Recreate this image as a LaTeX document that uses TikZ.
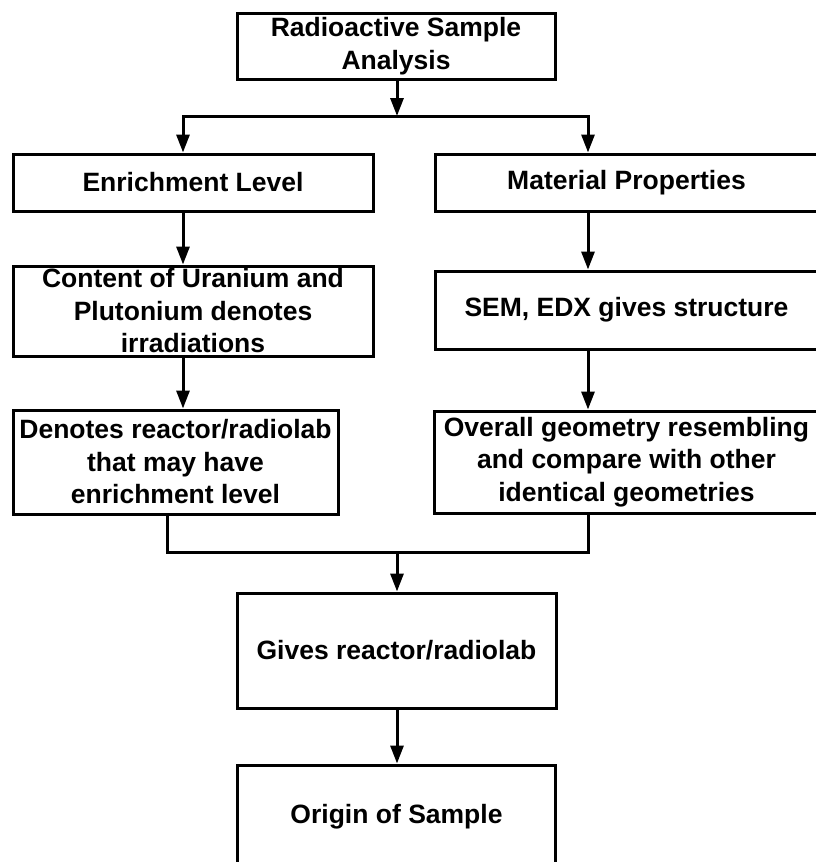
\documentclass[tikz,border=0pt]{standalone}
\usepackage{fontspec}
\setmainfont{Liberation Sans}
\usetikzlibrary{arrows.meta, positioning}

\begin{document}
\begin{tikzpicture}[x=1pt, y=-1pt,
    box/.style={draw, line width=3pt, align=center, inner sep=0pt, font=\fontsize{26.5}{32.5}\selectfont\bfseries},
    arr/.style={line width=3pt, -{Triangle[length=18pt, width=13pt]}},
    link/.style={line width=3pt}]
    \useasboundingbox (0,0) rectangle (815,862);

    % Start
    \node (analysis) [box, minimum width=318pt, minimum height=66pt] at (396,46) {Radioactive Sample\\Analysis};

    % Left branch
    \node (enrichment) [box, minimum width=360pt, minimum height=57pt] at (193,182.5) {Enrichment Level};
    \node (content) [box, minimum width=360pt, minimum height=90pt, below=52pt of enrichment] {Content of Uranium and\\Plutonium denotes\\irradiations};
    \node (denotes) [box, minimum width=325pt, minimum height=104pt, below=51pt of content, xshift=-17.5pt] {Denotes reactor/radiolab\\that may have\\enrichment level};

    % Right branch
    \node (material) [box, minimum width=383pt, minimum height=57pt] at (626.5,182.5) {Material Properties};
    \node (sem) [box, minimum width=383pt, minimum height=78pt, below=57pt of material] {SEM, EDX gives structure};
    \node (geometry) [box, minimum width=384pt, minimum height=102pt, below=59pt of sem] {Overall geometry resembling\\and compare with other\\identical geometries};

    % Result
    \node (reactor) [box, minimum width=319pt, minimum height=115pt] at (396.5,650.5) {Gives reactor/radiolab};
    \node (origin) [box, minimum width=318pt, minimum height=104pt, below=54pt of reactor] {Origin of Sample};

    % Connectors
    \coordinate (lcol) at (183,0);
    \coordinate (rcol) at (588,0);
    \coordinate (ljoin) at (167,0);
    \coordinate (split) at (397,116);
    \coordinate (join) at (397,552);

    \draw[arr] (analysis.south -| split) -- (split);
    \draw[arr] (split) -| (enrichment.north -| lcol);
    \draw[arr] (split) -| (material.north -| rcol);
    \draw[arr] (enrichment.south -| lcol) -- (content.north -| lcol);
    \draw[arr] (material.south -| rcol) -- (sem.north -| rcol);
    \draw[arr] (content.south -| lcol) -- (denotes.north -| lcol);
    \draw[arr] (sem.south -| rcol) -- (geometry.north -| rcol);
    \draw[link] (denotes.south -| ljoin) |- (join);
    \draw[link] (geometry.south -| rcol) |- (join);
    \draw[arr] (join) -- (reactor.north -| join);
    \draw[arr] (reactor.south -| join) -- (origin.north -| join);
\end{tikzpicture}
\end{document}
